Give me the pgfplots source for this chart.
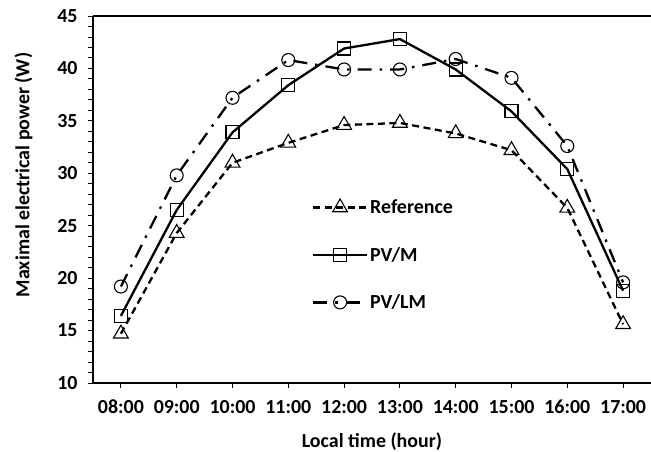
\documentclass[border=0pt]{standalone}
\usepackage{fontspec}
\setmainfont{Carlito}
\usepackage{pgfplots}
\pgfplotsset{compat=1.18}
\begin{document}
\begin{tikzpicture}
\begin{axis}[
  scale only axis,
  width=558bp, height=367bp,
  xmin=-0.5, xmax=9.5,
  ymin=10, ymax=45,
  axis lines=left,
  axis line style={line width=1.3bp, -},
  xtick={0,...,9},
  xticklabels={08:00,09:00,10:00,11:00,12:00,13:00,14:00,15:00,16:00,17:00},
  ytick={10,15,...,45},
  minor ytick={10,...,45},
  tick align=outside,
  major tick length=5bp,
  minor tick length=5bp,
  tick style={line width=0.9bp, black},
  x tick label style={yshift=-9bp, text height=13bp, text depth=2bp},
  y tick label style={xshift=-7bp},
  /pgf/number format/assume math mode=true,
  ticklabel style={font=\fontsize{20}{24}\selectfont\bfseries},
  xlabel={Local time (hour)},
  ylabel={Maximal electrical power (W)},
  label style={font=\fontsize{20}{24}\selectfont\bfseries},
  xlabel style={yshift=-10bp},
  ylabel style={at={(ticklabel cs:0.567)}, yshift=18bp},
  legend style={draw=none, fill=none, at={(axis description cs:0.392,0.505)}, anchor=north west,
    font=\fontsize{20}{24}\selectfont\bfseries, row sep=28bp, inner sep=0pt,
    /tikz/every even column/.append style={column sep=4bp}},
  legend cell align=left,
  legend image code/.code={\draw[mark repeat=2,mark phase=2] plot coordinates {(0bp,0bp) (27bp,0bp) (54bp,0bp)};},
  clip=false,
]
\addplot[black, line width=2.3bp, dash pattern=on 7bp off 4.5bp, mark=triangle, mark size=8.5bp,
  mark options={solid, fill=white, line width=1.1bp}]
  coordinates {(0,14.7) (1,24.3) (2,31.0) (3,32.9) (4,34.6) (5,34.8) (6,33.8) (7,32.2) (8,26.7) (9,15.6)};
\addlegendentry{Reference}
\addplot[black, line width=2.3bp, mark=square, mark size=6.5bp,
  mark options={solid, fill=white, line width=1.1bp}]
  coordinates {(0,16.4) (1,26.5) (2,33.9) (3,38.4) (4,41.9) (5,42.8) (6,39.9) (7,35.9) (8,30.4) (9,18.8)};
\addlegendentry{PV/M}
\addplot[black, line width=2.3bp, dash pattern=on 14bp off 8bp on 2.5bp off 8bp, mark=o, mark size=6.5bp,
  mark options={solid, fill=white, line width=1.1bp}]
  coordinates {(0,19.2) (1,29.8) (2,37.2) (3,40.8) (4,39.9) (5,39.9) (6,40.9) (7,39.1) (8,32.6) (9,19.6)};
\addlegendentry{PV/LM}
\draw[line width=1.3bp] (rel axis cs:0,1) -- (rel axis cs:1,1);
\coordinate (O) at (rel axis cs:0,0);
\end{axis}
\pgfresetboundingbox
\path ([shift={(-93bp,-69bp)}]O) rectangle ++(651bp,452bp);
\end{tikzpicture}
\end{document}
